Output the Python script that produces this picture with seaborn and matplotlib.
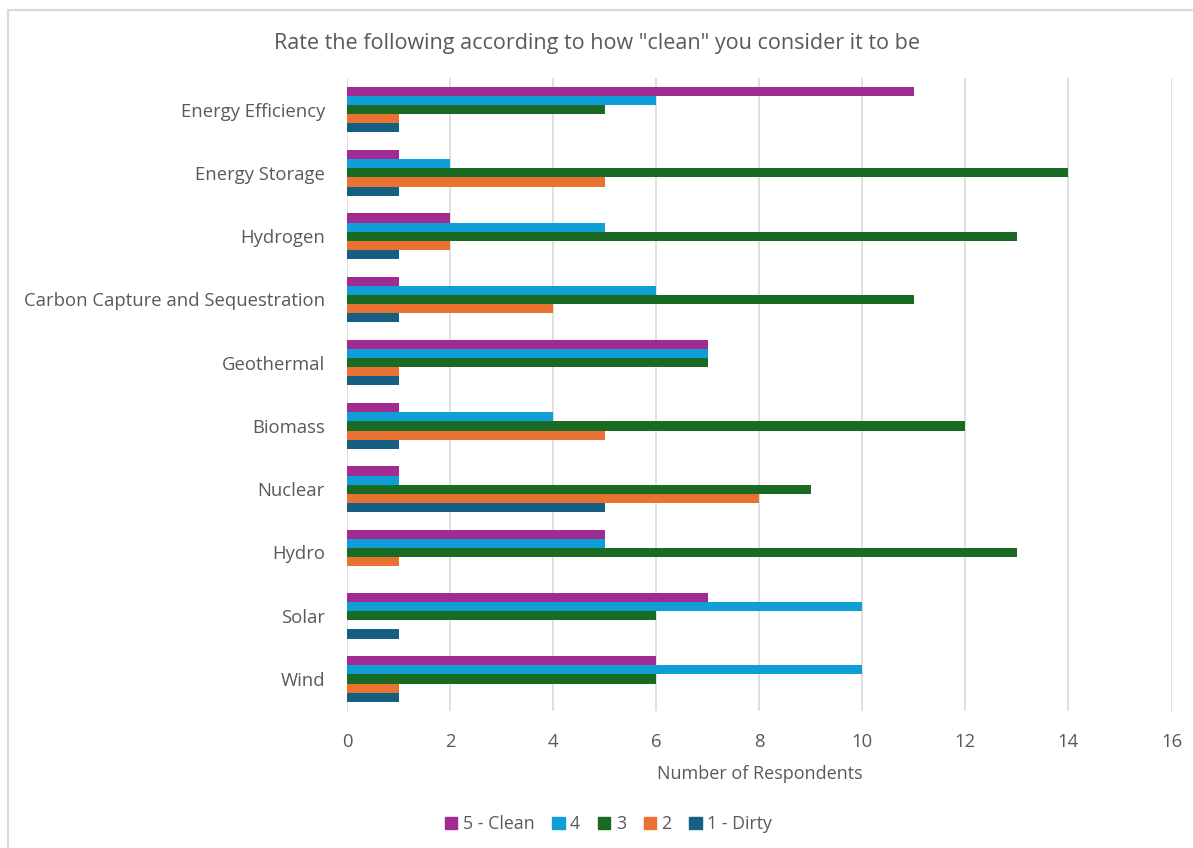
import pandas as pd
import seaborn as sns
import matplotlib.pyplot as plt
from matplotlib.lines import Line2D

# Survey data
categories = ["Energy Efficiency", "Energy Storage", "Hydrogen",
              "Carbon Capture and Sequestration", "Geothermal", "Biomass",
              "Nuclear", "Hydro", "Solar", "Wind"]
ratings = ["5 - Clean", "4", "3", "2", "1 - Dirty"]
clean_5 = [11, 1, 2, 1, 7, 1, 1, 5, 7, 6]
rating_4 = [6, 2, 5, 6, 7, 4, 1, 5, 10, 10]
rating_3 = [5, 14, 13, 11, 7, 12, 9, 13, 6, 6]
rating_2 = [1, 5, 2, 4, 1, 5, 8, 1, 0, 1]
dirty_1 = [1, 1, 1, 1, 1, 1, 5, 0, 1, 1]
colors = ["#A02B93", "#0F9ED5", "#196B24", "#E97132", "#156082"]

series = [clean_5, rating_4, rating_3, rating_2, dirty_1]
rows = []
for rating, vals in zip(ratings, series):
    for cat, v in zip(categories, vals):
        rows.append({"category": cat, "rating": rating, "count": v})
df = pd.DataFrame(rows)

sns.set_theme(style="white")
plt.rcParams['font.family'] = ['Open Sans', 'DejaVu Sans']
text_col = "#595959"

fig = plt.figure(figsize=(11.93, 8.48), dpi=100)
ax = fig.add_axes([0.291, 0.162, 0.691, 0.746])

sns.barplot(data=df, y="category", x="count", hue="rating",
            order=categories, hue_order=ratings, palette=colors,
            saturation=1, width=0.72, linewidth=0, orient="h", ax=ax, legend=False)

ax.set_xlim(0, 16)
ax.set_xticks(range(0, 17, 2))
ax.xaxis.grid(True, color="#D9D9D9", linewidth=1.2)
ax.set_axisbelow(True)
for s in ax.spines.values():
    s.set_visible(False)
ax.tick_params(axis="both", length=0, colors=text_col, labelsize=13.3)
ax.tick_params(axis="x", pad=16)
ax.tick_params(axis="y", pad=16)
ax.set_ylabel("")
ax.set_xlabel("Number of Respondents", color=text_col, fontsize=13, labelpad=10)

fig.text(0.5, 0.949, 'Rate the following according to how "clean" you consider it to be',
         ha="center", va="center", color=text_col, fontsize=15.5)

handles = [plt.Rectangle((0, 0), 1, 1, color=c) for c in colors]
fig.legend(handles, ratings, loc="center", bbox_to_anchor=(0.51, 0.028), ncol=5,
           frameon=False, fontsize=12.8, labelcolor=text_col,
           handlelength=0.7, handleheight=0.7, handletextpad=0.3, columnspacing=1.0)

# light chart-area border
fig.add_artist(Line2D([8 / 1193, 1], [1 - 10 / 848, 1 - 10 / 848], color="#D9D9D9", lw=1.5))
fig.add_artist(Line2D([8 / 1193, 8 / 1193], [0, 1 - 10 / 848], color="#D9D9D9", lw=1.5))

fig.savefig("out.png", dpi=100)
